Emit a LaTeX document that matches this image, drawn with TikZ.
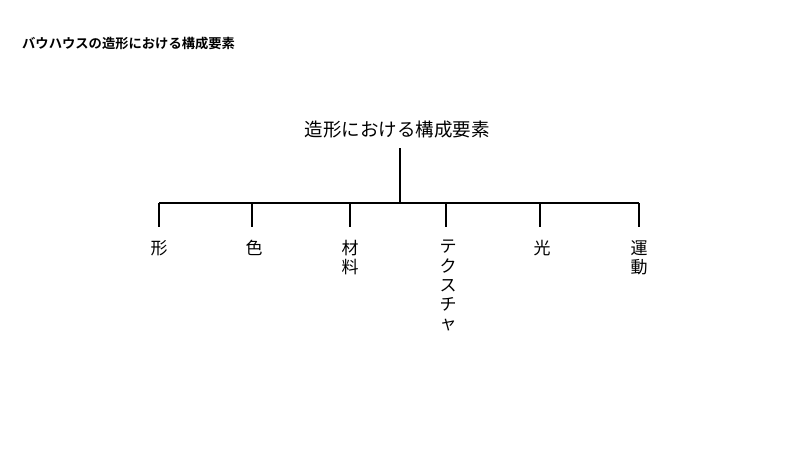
\documentclass[tikz,border=0pt]{standalone}
\usepackage{fontspec}
\setmainfont{Noto Sans CJK JP}
\newfontfamily\jpbold{Noto Sans CJK JP Bold}
\begin{document}
\begin{tikzpicture}[x=1pt,y=-1pt,
  conn/.style={line width=2pt,black},
  rootbox/.style={inner sep=0pt,font=\fontsize{18.5pt}{22pt}\selectfont},
  childbox/.style={inner sep=0pt,anchor=north,align=center,font=\fontsize{17pt}{19.3pt}\selectfont},
  titlebox/.style={inner sep=0pt,anchor=west,font=\jpbold\fontsize{13.3pt}{15pt}\selectfont}]
\useasboundingbox[fill=white] (0,0) rectangle (800,450);
\node[titlebox] (title) at (22,43) {バウハウスの造形における構成要素};
\node[rootbox] (root) at (397,130) {造形における構成要素};
\coordinate (rtop) at (400,148);
\coordinate (bus) at (400,203);
\foreach \i/\x in {1/159,2/252,3/350,4/446,5/540,6/639}{
  \coordinate (h\i) at (\x,203);
  \coordinate (e\i) at (\x,227);
}
\node[childbox] (c1) at (159,240) {形};
\node[childbox] (c2) at (254,240) {色};
\node[childbox] (c3) at (350,240) {材\\料};
\node[childbox] (c4) at (448,240) {テ\\ク\\ス\\チ\\ャ};
\node[childbox] (c5) at (542,240) {光};
\node[childbox] (c6) at (639,240) {運\\動};
\draw[conn] (rtop) -- (bus);
\draw[conn] (h1) -- (h6);
\foreach \i in {1,...,6}{ \draw[conn] (h\i) -- (e\i); }
\end{tikzpicture}
\end{document}
